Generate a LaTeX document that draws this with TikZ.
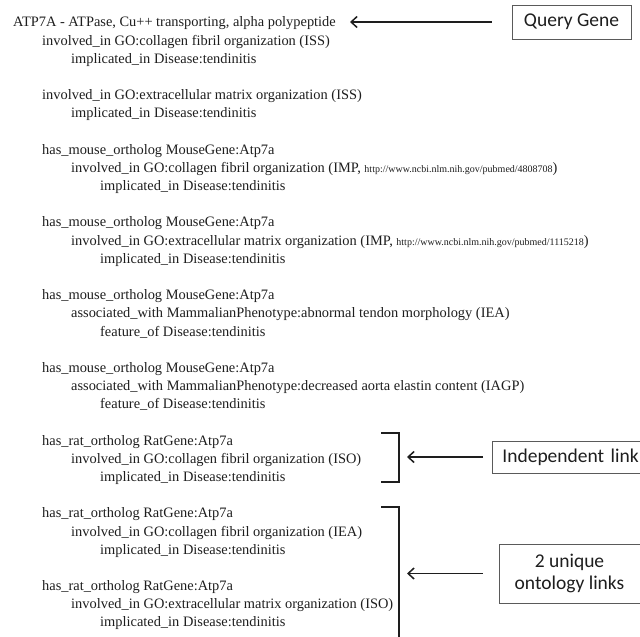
\documentclass[tikz,border=0pt]{standalone}
\usepackage{fontspec}
\setmainfont{Liberation Serif}
\newfontfamily\lblfont{Carlito}
\usetikzlibrary{arrows.meta}
\definecolor{ink}{HTML}{1E1E1E}
\definecolor{boxline}{HTML}{5A5A5A}
\newcommand\urlsz{\fontsize{10}{12}\selectfont}
\begin{document}
\begin{tikzpicture}[x=1pt,y=-1pt,
  ln/.style={anchor=base west, inner sep=0pt, text=ink, font=\fontsize{14.4}{17}\selectfont},
  lbl/.style={draw=boxline, line width=0.8pt, text=ink, font=\lblfont\fontsize{19.5}{22}\selectfont, inner sep=0pt},
  arr/.style={draw=ink, line width=1.5pt, -{Straight Barb[length=6pt,width=11pt]}},
  brk/.style={draw=ink, line width=1.6pt, line join=miter}]
\useasboundingbox (0,0) rectangle (640,637);
\clip (0,0) rectangle (640,637);
\fill[white] (0,0) rectangle (640,637);

% text lines: row n at y = 27 + 18.18 n (baseline)
\node[ln] (t1)  at (13,{27+18.18*0})  {ATP7A - ATPase, Cu++ transporting, alpha polypeptide};
\node[ln] (t2)  at (42,{27+18.18*1})  {involved\_in GO:collagen fibril organization (ISS)};
\node[ln] (t3)  at (71,{27+18.18*2})  {implicated\_in Disease:tendinitis};
\node[ln] (t4)  at (42,{27+18.18*4})  {involved\_in GO:extracellular matrix organization (ISS)};
\node[ln] (t5)  at (71,{27+18.18*5})  {implicated\_in Disease:tendinitis};
\node[ln] (t6)  at (42,{27+18.18*7})  {has\_mouse\_ortholog MouseGene:Atp7a};
\node[ln] (t7)  at (71,{27+18.18*8})  {involved\_in GO:collagen fibril organization (IMP, {\urlsz http://www.ncbi.nlm.nih.gov/pubmed/4808708})};
\node[ln] (t8)  at (100,{27+18.18*9}) {implicated\_in Disease:tendinitis};
\node[ln] (t9)  at (42,{27+18.18*11}) {has\_mouse\_ortholog MouseGene:Atp7a};
\node[ln] (t10) at (71,{27+18.18*12}) {involved\_in GO:extracellular matrix organization (IMP, {\urlsz http://www.ncbi.nlm.nih.gov/pubmed/1115218})};
\node[ln] (t11) at (100,{27+18.18*13}) {implicated\_in Disease:tendinitis};
\node[ln] (t12) at (42,{27+18.18*15}) {has\_mouse\_ortholog MouseGene:Atp7a};
\node[ln] (t13) at (71,{27+18.18*16}) {associated\_with MammalianPhenotype:abnormal tendon morphology (IEA)};
\node[ln] (t14) at (100,{27+18.18*17}) {feature\_of Disease:tendinitis};
\node[ln] (t15) at (42,{27+18.18*19}) {has\_mouse\_ortholog MouseGene:Atp7a};
\node[ln] (t16) at (71,{27+18.18*20}) {associated\_with MammalianPhenotype:decreased aorta elastin content (IAGP)};
\node[ln] (t17) at (100,{27+18.18*21}) {feature\_of Disease:tendinitis};
\node[ln] (t18) at (42,{27+18.18*23}) {has\_rat\_ortholog RatGene:Atp7a};
\node[ln] (t19) at (71,{27+18.18*24}) {involved\_in GO:collagen fibril organization (ISO)};
\node[ln] (t20) at (100,{27+18.18*25}) {implicated\_in Disease:tendinitis};
\node[ln] (t21) at (42,{27+18.18*27}) {has\_rat\_ortholog RatGene:Atp7a};
\node[ln] (t22) at (71,{27+18.18*28}) {involved\_in GO:collagen fibril organization (IEA)};
\node[ln] (t23) at (100,{27+18.18*29}) {implicated\_in Disease:tendinitis};
\node[ln] (t24) at (42,{27+18.18*31}) {has\_rat\_ortholog RatGene:Atp7a};
\node[ln] (t25) at (71,{27+18.18*32}) {involved\_in GO:extracellular matrix organization (ISO)};
\node[ln] (t26) at (100,{27+18.18*33}) {implicated\_in Disease:tendinitis};

% label boxes
\node[lbl, minimum width=119pt, minimum height=34pt] (qg) at (571.5,22) {Query Gene};
\node[lbl, anchor=west, minimum height=32pt, text width=150pt, inner xsep=10pt, align=left] (il) at (492,457) {Independent link};
\node[lbl, minimum width=141pt, minimum height=59pt, align=center] (uo) at (569.5,573.5) {2 unique\\ontology links};

% brackets
\coordinate (b1a) at (381,433);
\coordinate (b1b) at (399,433);
\coordinate (b1c) at (399,482);
\coordinate (b1d) at (381,482);
\draw[brk] (b1a) -- (b1b) -- (b1c) -- (b1d);
\coordinate (b2a) at (381,507);
\coordinate (b2b) at (399,507);
\coordinate (b2c) at (399,650);
\draw[brk] (b2a) -- (b2b) -- (b2c);

% arrows
\coordinate (qtip) at (350,22);
\coordinate (b1tip) at (407,457);
\coordinate (b2tip) at (407,573.5);
\draw[arr] ([xshift=-20pt]qg.west) -- (qtip);
\draw[arr] ([xshift=-9pt]il.west) -- (b1tip);
\draw[arr] ([xshift=-16pt]uo.west) -- (b2tip);
\end{tikzpicture}
\end{document}
